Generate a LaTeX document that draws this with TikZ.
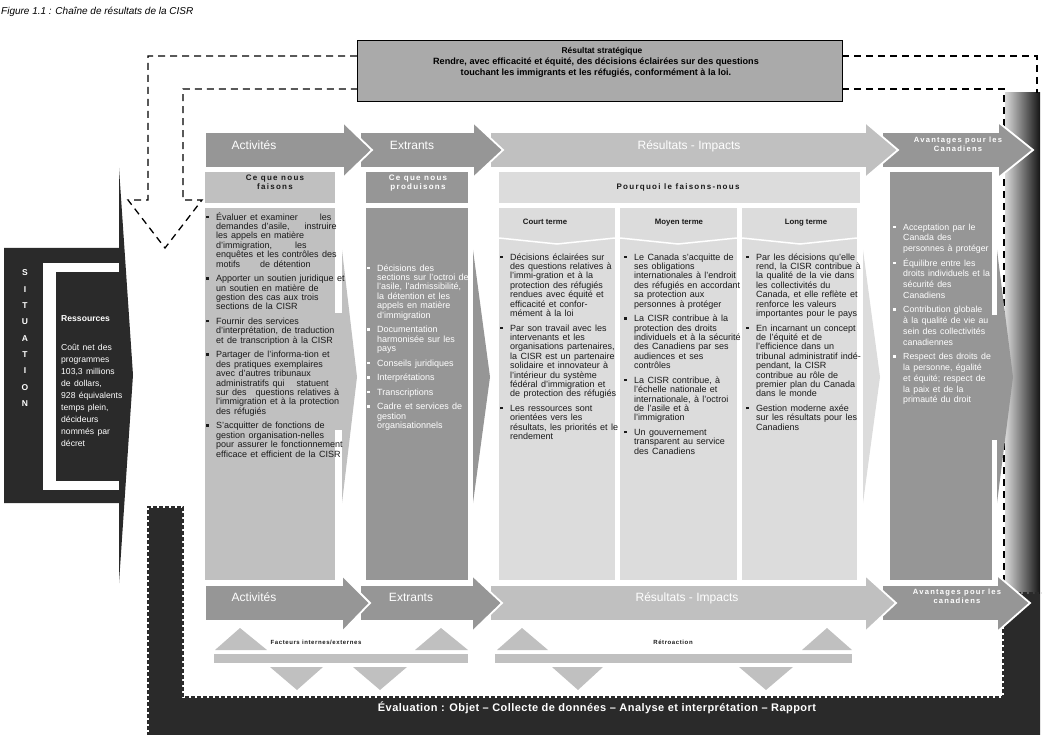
\documentclass[tikz,border=0pt]{standalone}
\usepackage{fontspec}
\setmainfont{Liberation Sans}
\newfontfamily\spacedA[LetterSpace=16]{Liberation Sans}
\newfontfamily\spacedB[LetterSpace=10]{Liberation Sans}
\newfontfamily\spacedC[LetterSpace=4]{Liberation Sans}
\definecolor{cdark}{HTML}{2A2A2A}
\definecolor{cmid}{HTML}{969696}
\definecolor{clight}{HTML}{C0C0C0}
\definecolor{cpale}{HTML}{DCDCDC}
\definecolor{cbox}{HTML}{AAAAAA}
\definecolor{ctext}{HTML}{1A1A1A}
\newlength{\bind}
\setlength{\bind}{10pt}
\newcommand{\bfirst}[1]{\hangindent=\bind\hangafter=1\noindent\makebox[\bind][l]{\rule[2.2pt]{2.4pt}{2.4pt}}#1\par}
\newcommand{\bitem}[1]{\par\hangindent=\bind\hangafter=1\noindent\makebox[\bind][l]{\rule[2.2pt]{2.4pt}{2.4pt}}#1\par}
\newcommand{\colset}[3]{\fontsize{#1}{#2}\selectfont\setlength{\parskip}{#3}}
\tikzset{
  arr/.style={draw=white, line width=1.8pt, line join=miter},
  dline/.style={draw=black, line width=1.3pt, dash pattern=on 7pt off 5pt},
  blist/.style={anchor=base west, inner sep=0pt, text width=150pt, align=left},
  alabel/.style={text=white, inner sep=0pt, anchor=base, font=\fontsize{12}{14}\selectfont},
  slabel/.style={inner sep=0pt, anchor=base, font=\fontsize{8}{9}\spacedA\bfseries},
  vlabel/.style={inner sep=0pt, anchor=base, text=white, font=\fontsize{7.6}{9}\spacedA\bfseries},
  stlabel/.style={inner sep=0pt, anchor=base, font=\fontsize{9.1}{10}\selectfont\bfseries},
}
\begin{document}
\begin{tikzpicture}[x=1pt,y=-1pt]
\useasboundingbox (0,0) rectangle (1044,735);
\node[anchor=base west, inner sep=0pt, font=\fontsize{10}{11}\selectfont\itshape] (title) at (1,14.5) {Figure 1.1 : Chaîne de résultats de la CISR};

% gradient bar
\shade[left color=black!15, right color=black!92] (1005,93) rectangle (1040,593);

% strategic outcome
\path[draw=black, line width=0.8pt, fill=cbox] (357,40) rectangle (842,101);
\node[inner sep=0pt, anchor=base, font=\fontsize{8.4}{10}\selectfont\bfseries] (stratH) at (602,54) {Résultat stratégique};
\node[stlabel] (strat1) at (596,64.3) {Rendre, avec efficacité et équité, des décisions éclairées sur des questions};
\node[stlabel] (strat2) at (596,75.3) {touchant les immigrants et les réfugiés, conformément à la loi.};

% dashed outlines
\draw[dline] (357,56) -- (148,56) -- (148,200) -- (128,200) -- (165,248) -- (202,200) -- (183,200) -- (183,89) -- (357,89);
\draw[dline] (842,56) -- (1037,56) -- (1037,93);
\draw[dline] (842,89) -- (1004,89) -- (1004,593);

% evaluation frame
\fill[cdark] (149,508) -- (182,508) -- (182,698) -- (1004,698) -- (1004,594) -- (1040,594) -- (1040,735) -- (149,735) -- cycle;
\draw[cdark, line width=2pt, dash pattern=on 4pt off 2pt] (148,736) -- (148,507) -- (183,507) -- (183,697) -- (1003,697) -- (1003,593) -- (1041,593);
\node[text=white, inner sep=0pt, anchor=base, font=\fontsize{11}{13}\selectfont] (evalT) at (597,711) {\spacedC\bfseries Évaluation : Objet – Collecte de données – Analyse et interprétation – Rapport};

% situation
\fill[cdark] (4,248) -- (119,248) -- (119,168) -- (133,375) -- (119,583) -- (119,503) -- (4,503) -- cycle;
\fill[white] (43,263) rectangle (119,490);
\fill[cdark] (56,272) rectangle (120,481);
\foreach \ch [count=\i] in {S,I,T,U,A,T,I,O,N}
  \node[text=white, inner sep=0pt, anchor=base, font=\fontsize{8.5}{10}\selectfont\bfseries] (sit\i) at (25,{276+(\i-1)*16.3}) {\ch};
\node[text=white, inner sep=0pt, anchor=base west, font=\fontsize{8.6}{10}\selectfont\bfseries] (res) at (61,321) {Ressources};
\node[blist, text=white, text width=80pt] (resT) at (61,350.2) {\colset{8.6}{10.4}{0pt}Coût net des\newline programmes\newline 103,3 millions\newline de dollars,\newline 928 équivalents\newline temps plein,\newline décideurs\newline nommés par\newline décret};

% header arrows
\path[arr, fill=cmid] (882,132) -- (998,132) -- (998,122) -- (1033,150) -- (998,178) -- (998,168) -- (882,168) -- cycle;
\path[arr, fill=clight] (490,132) -- (865,132) -- (865,122) -- (898,150) -- (865,178) -- (865,168) -- (490,168) -- cycle;
\path[arr, fill=cmid] (360,132) -- (473,132) -- (473,122) -- (503,150) -- (473,178) -- (473,168) -- (360,168) -- cycle;
\path[arr, fill=cmid] (205,132) -- (343,132) -- (343,122) -- (372,150) -- (343,178) -- (343,168) -- (205,168) -- cycle;
\node[alabel] (hA) at (254,149.5) {Activités};
\node[alabel] (hE) at (412,149.5) {Extrants};
\node[alabel] (hR) at (689,149.5) {Résultats - Impacts};
\node[vlabel] (hV1) at (958,143) {Avantages pour les};
\node[vlabel] (hV2) at (958,152) {Canadiens};

% column slivers
\fill[clight] (342,250) -- (357,377) -- (342,503) -- cycle;
\fill[clight] (334,313) rectangle (343,430);
\fill[cmid] (473,250) -- (490,377) -- (473,503) -- cycle;
\fill[cpale] (863,250) -- (880,377) -- (863,503) -- cycle;
\fill[cmid] (997,250) -- (1013,377) -- (997,503) -- cycle;
\fill[cmid] (991,315) rectangle (998,440);

% column boxes
\fill[clight] (205,172) rectangle (335,203);
\fill[clight] (205,208) rectangle (335,580);
\fill[cmid] (366,172) rectangle (468,203);
\fill[cmid] (366,208) rectangle (468,580);
\fill[cpale] (499,172) rectangle (860,203);
\fill[cpale] (499,208) rectangle (615,580);
\fill[cpale] (620,208) rectangle (737,580);
\fill[cpale] (742,208) rectangle (857,580);
\fill[cmid] (890,172) rectangle (992,580);
\draw[white, line width=1.5pt] (499,238) -- (557,244) -- (615,238);
\draw[white, line width=1.5pt] (620,238) -- (678,244) -- (737,238);
\draw[white, line width=1.5pt] (742,238) -- (800,244) -- (857,238);

% column headers
\node[slabel, text=ctext] (cA1) at (275,181) {Ce que nous};
\node[slabel, text=ctext] (cA2) at (275,190) {faisons};
\node[slabel, text=white] (cE1) at (418,181) {Ce que nous};
\node[slabel, text=white] (cE2) at (418,190) {produisons};
\node[slabel, text=ctext] (cR) at (678,190) {Pourquoi le faisons-nous};
\node[inner sep=0pt, anchor=base, text=ctext, font=\fontsize{7.8}{9}\selectfont\bfseries] (ct) at (545,225) {Court terme};
\node[inner sep=0pt, anchor=base, text=ctext, font=\fontsize{7.8}{9}\selectfont\bfseries] (mt) at (679,225) {Moyen terme};
\node[inner sep=0pt, anchor=base, text=ctext, font=\fontsize{7.8}{9}\selectfont\bfseries] (lt) at (806,225) {Long terme};

% bullet lists
\node[blist, text=ctext] (actT) at (206,220.2) {\colset{9}{9.4}{5.2pt}%
\bfirst{Évaluer et examiner\hspace{22pt}les\newline demandes d'asile,\hspace{15pt}instruire\newline les appels en matière\newline d'immigration,\hspace{23pt}les\newline enquêtes et les contrôles des\newline motifs\hspace{20pt}de détention}
\bitem{Apporter un soutien juridique et\newline un soutien en matière de\newline gestion des cas aux trois\newline sections de la CISR}
\bitem{Fournir des services\newline d'interprétation, de traduction\newline et de transcription à la CISR}
\bitem{Partager de l'informa-tion et\newline des pratiques exemplaires\newline avec d'autres tribunaux\newline administratifs qui\hspace{12pt}statuent\newline sur des\hspace{9pt}questions relatives à\newline l'immigration et à la protection\newline des réfugiés}
\bitem{S'acquitter de fonctions de\newline gestion organisation-nelles\newline pour assurer le fonctionnement\newline efficace et efficient de la CISR}};

\node[blist, text=white] (extT) at (367,271.2) {\colset{9}{9.4}{5.2pt}%
\bfirst{Décisions des\newline sections sur l'octroi de\newline l'asile, l'admissibilité,\newline la détention et les\newline appels en matière\newline d'immigration}
\bitem{Documentation\newline harmonisée sur les\newline pays}
\bitem{Conseils juridiques}
\bitem{Interprétations}
\bitem{Transcriptions}
\bitem{Cadre et services de\newline gestion\newline organisationnels}};

\node[blist, text=ctext] (ctT) at (500,260.2) {\colset{9}{9.4}{5.2pt}%
\bfirst{Décisions éclairées sur\newline des questions relatives à\newline l'immi-gration et à la\newline protection des réfugiés\newline rendues avec équité et\newline efficacité et confor-\newline mément à la loi}
\bitem{Par son travail avec les\newline intervenants et les\newline organisations partenaires,\newline la CISR est un partenaire\newline solidaire et innovateur à\newline l'intérieur du système\newline fédéral d'immigration et\newline de protection des réfugiés}
\bitem{Les ressources sont\newline orientées vers les\newline résultats, les priorités et le\newline rendement}};

\node[blist, text=ctext] (mtT) at (624,260.2) {\colset{9}{9.4}{5.2pt}%
\bfirst{Le Canada s'acquitte de\newline ses obligations\newline internationales à l'endroit\newline des réfugiés en accordant\newline sa protection aux\newline personnes à protéger}
\bitem{La CISR contribue à la\newline protection des droits\newline individuels et à la sécurité\newline des Canadiens par ses\newline audiences et ses\newline contrôles}
\bitem{La CISR contribue, à\newline l'échelle nationale et\newline internationale, à l'octroi\newline de l'asile et à\newline l'immigration}
\bitem{Un gouvernement\newline transparent au service\newline des Canadiens}};

\node[blist, text=ctext] (ltT) at (746,260.2) {\colset{9}{9.4}{5.2pt}%
\bfirst{Par les décisions qu'elle\newline rend, la CISR contribue à\newline la qualité de la vie dans\newline les collectivités du\newline Canada, et elle reflète et\newline renforce les valeurs\newline importantes pour le pays}
\bitem{En incarnant un concept\newline de l'équité et de\newline l'efficience dans un\newline tribunal administratif indé-\newline pendant, la CISR\newline contribue au rôle de\newline premier plan du Canada\newline dans le monde}
\bitem{Gestion moderne axée\newline sur les résultats pour les\newline Canadiens}};

\node[blist, text=white] (avT) at (893,230.2) {\colset{8.8}{10.8}{3.6pt}%
\bfirst{Acceptation par le\newline Canada des\newline personnes à protéger}
\bitem{Équilibre entre les\newline droits individuels et la\newline sécurité des\newline Canadiens}
\bitem{Contribution globale\newline à la qualité de vie au\newline sein des collectivités\newline canadiennes}
\bitem{Respect des droits de\newline la personne, égalité\newline et équité; respect de\newline la paix et de la\newline primauté du droit}};

% bottom arrows
\path[arr, fill=cmid] (882,585) -- (997,585) -- (997,575) -- (1030,603) -- (997,632) -- (997,621) -- (882,621) -- cycle;
\path[arr, fill=clight] (490,585) -- (865,585) -- (865,575) -- (896,603) -- (865,632) -- (865,621) -- (490,621) -- cycle;
\path[arr, fill=cmid] (360,585) -- (472,585) -- (472,575) -- (502,603) -- (472,632) -- (472,621) -- (360,621) -- cycle;
\path[arr, fill=cmid] (205,585) -- (342,585) -- (342,575) -- (370,603) -- (342,632) -- (342,621) -- (205,621) -- cycle;
\node[alabel] (bA) at (254,601.5) {Activités};
\node[alabel] (bE) at (411,601.5) {Extrants};
\node[alabel] (bR) at (687,601.5) {Résultats - Impacts};
\node[vlabel] (bV1) at (957,594.5) {Avantages pour les};
\node[vlabel] (bV2) at (957,603.5) {canadiens};

% factors and feedback
\fill[clight] (215,650) -- (240,628) -- (267,650) -- cycle;
\fill[clight] (415,650) -- (441,628) -- (468,650) -- cycle;
\fill[clight] (497,650) -- (522,628) -- (548,650) -- cycle;
\fill[clight] (802,650) -- (827,628) -- (852,650) -- cycle;
\fill[clight] (214,654) rectangle (468,663);
\fill[clight] (495,654) rectangle (852,663);
\fill[clight] (270,667) -- (297,690) -- (323,667) -- cycle;
\fill[clight] (353,667) -- (380,690) -- (407,667) -- cycle;
\fill[clight] (552,667) -- (578,690) -- (603,667) -- cycle;
\fill[clight] (739,667) -- (766,690) -- (793,667) -- cycle;
\node[inner sep=0pt, anchor=base, text=ctext, font=\fontsize{6}{7}\selectfont] (fac) at (316,644.2) {\spacedB\bfseries Facteurs internes/externes};
\node[inner sep=0pt, anchor=base, text=ctext, font=\fontsize{6}{7}\selectfont] (ret) at (673,644.2) {\spacedB\bfseries Rétroaction};
\end{tikzpicture}
\end{document}
